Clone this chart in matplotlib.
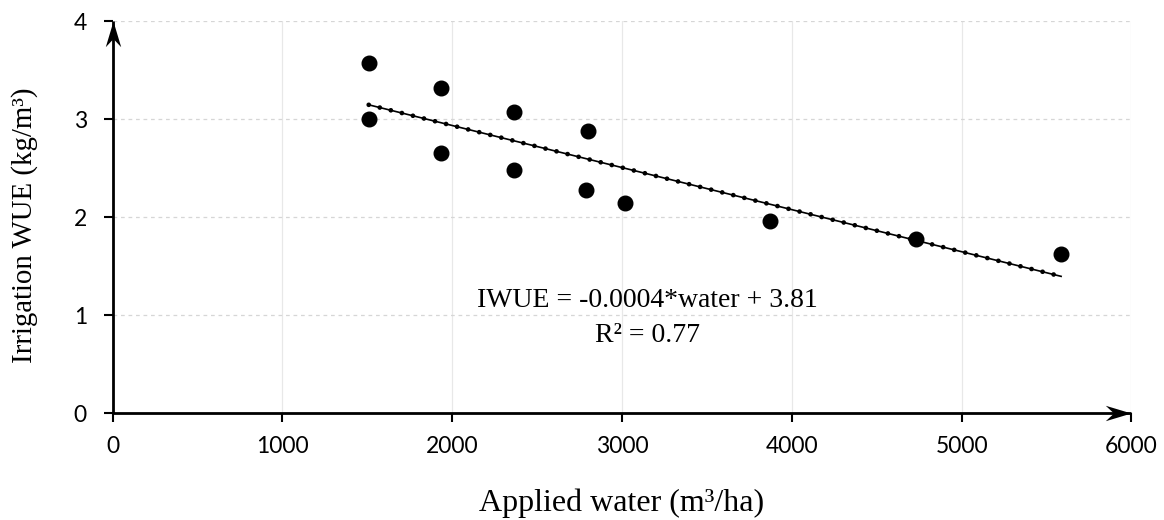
import numpy as np
import matplotlib.pyplot as plt
from matplotlib.path import Path

# applied water (m3/ha) and irrigation WUE (kg/m3)
water = [1508, 1508, 1935, 1935, 2362, 2362, 2802, 2790, 3018, 3872, 4729, 5586]
iwue = [3.57, 3.00, 3.32, 2.65, 3.07, 2.48, 2.88, 2.28, 2.14, 1.96, 1.78, 1.62]

x_ticks = [0, 1000, 2000, 3000, 4000, 5000, 6000]
y_ticks = [0, 1, 2, 3, 4]

eq_text = 'IWUE = -0.0004*water + 3.81'
r2_text = 'R² = 0.77'

# linear trendline over the data range
slope, intercept = np.polyfit(water, iwue, 1)
trend_x = np.array([min(water), max(water)])
trend_y = slope * trend_x + intercept

fig = plt.figure(figsize=(11.64, 5.2), dpi=100)
ax = fig.add_axes([0.0968, 0.2052, 0.972 - 0.0968, 0.9596 - 0.2052])

ax.set_xlim(0, 6000)
ax.set_ylim(0, 4)

# gridlines
for v in x_ticks[1:]:
    ax.axvline(v, color='#e8e8e8', lw=0.9, zorder=0)
for v in y_ticks[1:]:
    ax.axhline(v, color='#d6d6d6', lw=0.9, ls=(0, (3, 3)), zorder=0)

# trendline: thin solid line with round dots
ax.plot(trend_x, trend_y, color='black', lw=1.2, zorder=2)
ax.plot(trend_x, trend_y, color='black', lw=3.4, ls=(0, (0.01, 2.4)),
        dash_capstyle='round', zorder=2)

ax.plot(water, iwue, 'o', color='black', ms=10.5, zorder=3)

ax.text(3147, 1.079, eq_text, ha='center', va='baseline',
        family='Liberation Serif', fontsize=20)
ax.text(3147, 0.729, r2_text, ha='center', va='baseline',
        family='Liberation Serif', fontsize=20)

# axes styling
for s in ['top', 'right']:
    ax.spines[s].set_visible(False)
for s in ['left', 'bottom']:
    ax.spines[s].set_linewidth(2.0)
    ax.spines[s].set_capstyle('butt')

ax.set_xticks(x_ticks)
ax.set_yticks(y_ticks)
ax.tick_params(axis='both', direction='out', length=6.5, width=1.5,
               labelsize=16.5, colors='black')
ax.tick_params(axis='x', pad=10)
ax.tick_params(axis='y', pad=12)
for lab in ax.get_xticklabels() + ax.get_yticklabels():
    lab.set_family('Lato')

# arrowheads on the axes
up = Path([(0, 0), (-0.3, -1), (0, -0.68), (0.3, -1), (0, 0)],
          [Path.MOVETO, Path.LINETO, Path.LINETO, Path.LINETO, Path.CLOSEPOLY])
right = Path([(0, 0), (-1, 0.3), (-0.68, 0), (-1, -0.3), (0, 0)],
             [Path.MOVETO, Path.LINETO, Path.LINETO, Path.LINETO, Path.CLOSEPOLY])
ax.plot(0, 1, marker=up, ms=37, color='black', mew=0,
        transform=ax.get_xaxis_transform(), clip_on=False, zorder=5)
ax.plot(1, 0, marker=right, ms=37, color='black', mew=0,
        transform=ax.get_yaxis_transform(), clip_on=False, zorder=5)

fig.text(622 / 1164, 1 - 511 / 520, 'Applied water (m³/ha)', ha='center',
         va='baseline', family='Liberation Serif', fontsize=23)
fig.text(25 / 1164, 1 - 225 / 520, 'Irrigation WUE (kg/m³)', ha='center',
         va='center', rotation=90, family='Liberation Serif', fontsize=20.8)

fig.savefig('out.png', dpi=100)
